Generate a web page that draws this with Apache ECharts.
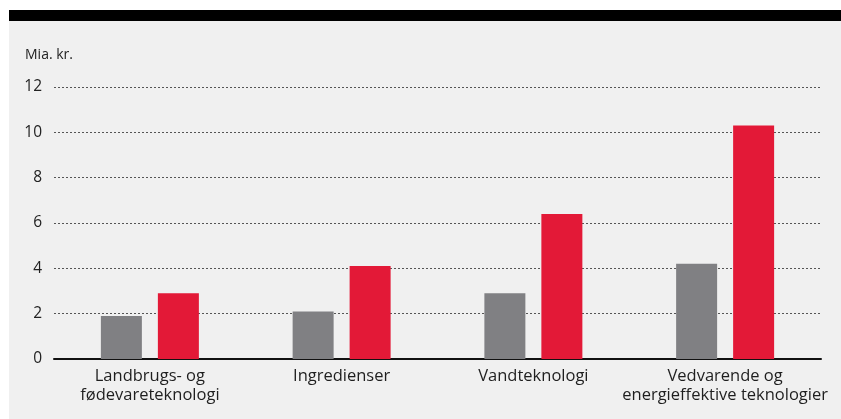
<!DOCTYPE html>
<html>
<head>
<meta charset="utf-8">
<script src="https://cdn.jsdelivr.net/npm/echarts@6/dist/echarts.min.js"></script>
<style>
html, body { margin: 0; padding: 0; background: #fff; }
#chart { width: 841px; height: 419px; }
</style>
</head>
<body>
<div id="chart"></div>
<script>
// data
var categories = ['Landbrugs- og\nfødevareteknologi', 'Ingredienser', 'Vandteknologi', 'Vedvarende og\nenergieffektive teknologier'];
var greyValues = [1.9, 2.1, 2.9, 4.2];
var redValues = [2.9, 4.1, 6.4, 10.3];
var unitLabel = 'Mia. kr.';

var dom = document.getElementById('chart');
var myChart = echarts.init(dom);
var font = '"Open Sans", sans-serif';

var option = {
    backgroundColor: '#ffffff',
    animation: false,
    graphic: [
        { type: 'rect', left: 9, top: 21, z: -10, shape: { width: 832, height: 398 }, style: { fill: '#f0f0f0' } },
        { type: 'rect', left: 9, top: 10, z: -10, shape: { width: 832, height: 11 }, style: { fill: '#000000' } },
        { type: 'text', left: 25, top: 48, style: { text: unitLabel, font: '14px ' + font, fill: '#222' } }
    ],
    grid: { left: 54, right: 20, top: 87, bottom: 60 },
    xAxis: {
        type: 'category',
        data: categories,
        axisLine: { lineStyle: { color: '#111', width: 2 } },
        axisTick: { show: false },
        axisLabel: {
            margin: 8,
            fontFamily: font,
            fontSize: 16.5,
            lineHeight: 19,
            color: '#1e1e1e',
            interval: 0
        }
    },
    yAxis: {
        type: 'value',
        min: 0,
        max: 12,
        interval: 2,
        axisLine: { show: false },
        axisTick: { show: false },
        axisLabel: {
            margin: 12,
            fontFamily: font,
            fontSize: 15.5,
            color: '#222',
            padding: [0, 0, 8, 0]
        },
        splitLine: { lineStyle: { color: '#555', type: [2, 2], width: 1 } }
    },
    series: [
        {
            type: 'bar',
            data: greyValues,
            barWidth: 41,
            barGap: '39%',
            itemStyle: { color: '#808083' }
        },
        {
            type: 'bar',
            data: redValues,
            barWidth: 41,
            itemStyle: { color: '#e31937' }
        }
    ]
};
myChart.setOption(option);
</script>
</body>
</html>
